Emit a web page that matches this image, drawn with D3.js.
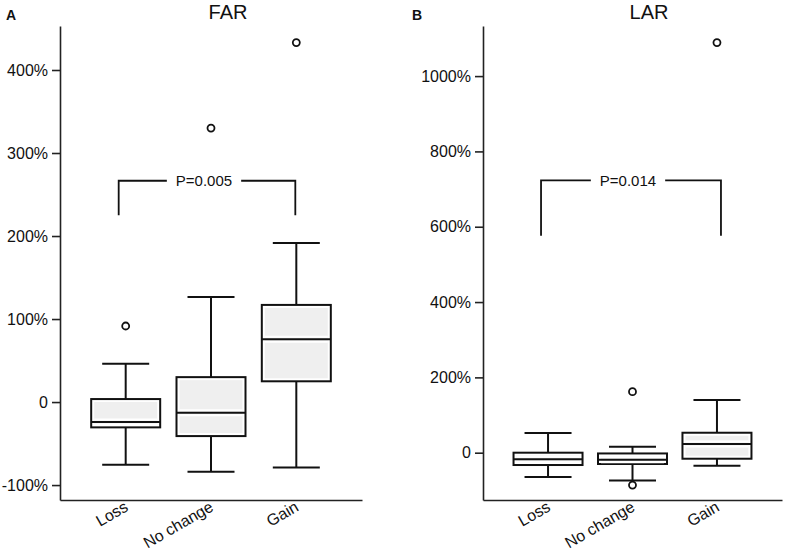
<!DOCTYPE html>
<html>
<head>
<meta charset="utf-8">
<script src="https://cdn.jsdelivr.net/npm/d3@7"></script>
<style>
  body { margin: 0; background: #fff; }
  svg { font-family: "Liberation Sans", Arial, sans-serif; }
</style>
</head>
<body>
<svg id="chart" width="785" height="553"></svg>
<script>
////////////////// data ////////////////////
const groups = ["Loss", "No change", "Gain"];

// FAR (percent)
const farLow = [-75.5, -84, -78.7];
const farQ1 = [-30.5, -41, 25];
const farMed = [-24, -13, 75.5];
const farQ3 = [3.6, 30, 117];
const farHigh = [46, 126.5, 191.6];
const farOutliers = [[91.6], [330], [433]];
const farTicks = [-100, 0, 100, 200, 300, 400];

// LAR (percent)
const larLow = [-64.5, -74, -34.5];
const larQ1 = [-32.7, -30, -16];
const larMed = [-17.5, -18.5, 23];
const larQ3 = [0, -2, 53];
const larHigh = [52, 16, 140];
const larOutliers = [[], [162, -86], [1089]];
const larTicks = [0, 200, 400, 600, 800, 1000];

// significance brackets: [top, leg bottom], label
const farBracket = [266.6, 225];
const larBracket = [723, 576];
const farP = "P=0.005";
const larP = "P=0.014";

////////////////// drawing ////////////////////
const svg = d3.select("#chart");

function buildRows(low, q1, med, q3, high, outs) {
    return groups.map((g, i) => ({
        group: g, low: low[i], q1: q1[i], med: med[i], q3: q3[i], high: high[i], outs: outs[i]
    }));
}

function drawPanel(opt) {
    const g = svg.append("g");
    const x = d3.scalePoint()
        .domain(groups)
        .range([opt.left, opt.right])
        .padding(0.77);
    const y = d3.scaleLinear()
        .domain(opt.yDomain)
        .range([opt.bottom, opt.top]);

    // y axis
    const yAxis = g.append("g")
        .attr("transform", `translate(${opt.left},0)`)
        .call(d3.axisLeft(y)
            .tickValues(opt.ticks)
            .tickSize(8)
            .tickSizeOuter(0)
            .tickPadding(4)
            .tickFormat(d => d === 0 ? "0" : d + "%"));
    yAxis.select(".domain").attr("stroke-width", 1.6).attr("stroke", "#222");
    yAxis.selectAll(".tick line").attr("stroke-width", 1.6).attr("stroke", "#222");
    yAxis.selectAll(".tick text")
        .attr("font-size", 16)
        .attr("fill", "#111")
        .attr("font-family", "Liberation Sans, Arial, sans-serif");

    // x axis
    const xAxis = g.append("g")
        .attr("transform", `translate(0,${opt.bottom})`)
        .call(d3.axisBottom(x).tickSize(0).tickSizeOuter(0).tickPadding(0));
    xAxis.select(".domain").attr("stroke-width", 1.6).attr("stroke", "#222");
    xAxis.selectAll(".tick text")
        .attr("font-size", 16)
        .attr("fill", "#111")
        .attr("font-family", "Liberation Sans, Arial, sans-serif")
        .attr("text-anchor", "end")
        .attr("dy", null)
        .attr("y", null)
        .attr("transform", "translate(3,10) rotate(-30)");

    const boxW = 69, capW = 47;
    const boxes = g.selectAll("g.box")
        .data(opt.rows)
        .enter()
        .append("g")
        .attr("class", "box");

    // whiskers
    boxes.append("line")
        .attr("x1", d => x(d.group)).attr("x2", d => x(d.group))
        .attr("y1", d => y(d.high)).attr("y2", d => y(d.q3))
        .attr("stroke", "#111").attr("stroke-width", 2);
    boxes.append("line")
        .attr("x1", d => x(d.group)).attr("x2", d => x(d.group))
        .attr("y1", d => y(d.q1)).attr("y2", d => y(d.low))
        .attr("stroke", "#111").attr("stroke-width", 2);
    boxes.append("line")
        .attr("x1", d => x(d.group) - capW / 2).attr("x2", d => x(d.group) + capW / 2)
        .attr("y1", d => y(d.high)).attr("y2", d => y(d.high))
        .attr("stroke", "#111").attr("stroke-width", 2);
    boxes.append("line")
        .attr("x1", d => x(d.group) - capW / 2).attr("x2", d => x(d.group) + capW / 2)
        .attr("y1", d => y(d.low)).attr("y2", d => y(d.low))
        .attr("stroke", "#111").attr("stroke-width", 2);

    // box body: white rim then grey fill
    boxes.append("rect")
        .attr("x", d => x(d.group) - boxW / 2)
        .attr("y", d => y(d.q3))
        .attr("width", boxW)
        .attr("height", d => y(d.q1) - y(d.q3))
        .attr("fill", "#fff")
        .attr("stroke", "#111")
        .attr("stroke-width", 2);
    boxes.append("rect")
        .attr("x", d => x(d.group) - boxW / 2 + 3)
        .attr("y", d => y(d.q3) + 3)
        .attr("width", boxW - 6)
        .attr("height", d => Math.max(0, y(d.q1) - y(d.q3) - 6))
        .attr("fill", "#efefef");
    boxes.append("line")
        .attr("x1", d => x(d.group) - boxW / 2 + 3).attr("x2", d => x(d.group) + boxW / 2 - 3)
        .attr("y1", d => y(d.med) - 2.5).attr("y2", d => y(d.med) - 2.5)
        .attr("stroke", "#fff").attr("stroke-width", 2);
    boxes.append("line")
        .attr("x1", d => x(d.group) - boxW / 2 + 3).attr("x2", d => x(d.group) + boxW / 2 - 3)
        .attr("y1", d => y(d.med) + 2.5).attr("y2", d => y(d.med) + 2.5)
        .attr("stroke", "#fff").attr("stroke-width", 2);
    boxes.append("line")
        .attr("x1", d => x(d.group) - boxW / 2).attr("x2", d => x(d.group) + boxW / 2)
        .attr("y1", d => y(d.med)).attr("y2", d => y(d.med))
        .attr("stroke", "#111").attr("stroke-width", 2);

    // outliers
    boxes.selectAll("circle")
        .data(d => d.outs.map(v => ({ group: d.group, v: v })))
        .enter()
        .append("circle")
        .attr("cx", d => x(d.group))
        .attr("cy", d => y(d.v))
        .attr("r", 3.5)
        .attr("fill", "#fff")
        .attr("stroke", "#111")
        .attr("stroke-width", 1.8);

    // significance bracket
    const bx1 = x(groups[0]) - 7, bx2 = x(groups[2]) + opt.bracketRight;
    const bTop = y(opt.bracket[0]), bLeg = y(opt.bracket[1]);
    g.append("path")
        .attr("d", d3.line()([[bx1, bLeg], [bx1, bTop], [bx2, bTop], [bx2, bLeg]]))
        .attr("fill", "none")
        .attr("stroke", "#111")
        .attr("stroke-width", 1.8);
    const pTxt = g.append("text")
        .attr("x", (bx1 + bx2) / 2 - 3)
        .attr("y", bTop)
        .attr("dy", "0.35em")
        .attr("text-anchor", "middle")
        .attr("font-size", 15)
        .attr("fill", "#111")
        .text(opt.pLabel);
    const bb = pTxt.node().getBBox();
    g.insert("rect", () => pTxt.node())
        .attr("x", bb.x - 9).attr("y", bTop - 3)
        .attr("width", bb.width + 18).attr("height", 6)
        .attr("fill", "#fff");

    // title and panel letter
    g.append("text")
        .attr("x", opt.titleX).attr("y", 19)
        .attr("text-anchor", "middle")
        .attr("font-size", 20)
        .attr("fill", "#111")
        .text(opt.title);
    g.append("text")
        .attr("x", opt.letterX).attr("y", 20)
        .attr("font-size", 14)
        .attr("font-weight", "bold")
        .attr("fill", "#111")
        .text(opt.letter);
}

drawPanel({
    left: 60, right: 362, top: 26, bottom: 500,
    yDomain: [-118, 453],
    ticks: farTicks,
    rows: buildRows(farLow, farQ1, farMed, farQ3, farHigh, farOutliers),
    bracket: farBracket, bracketRight: -1, pLabel: farP,
    title: "FAR", titleX: 228, letter: "A", letterX: 6
});

drawPanel({
    left: 483, right: 782, top: 26, bottom: 500,
    yDomain: [-125.6, 1133],
    ticks: larTicks,
    rows: buildRows(larLow, larQ1, larMed, larQ3, larHigh, larOutliers),
    bracket: larBracket, bracketRight: 4, pLabel: larP,
    title: "LAR", titleX: 649, letter: "B", letterX: 412
});
</script>
</body>
</html>
